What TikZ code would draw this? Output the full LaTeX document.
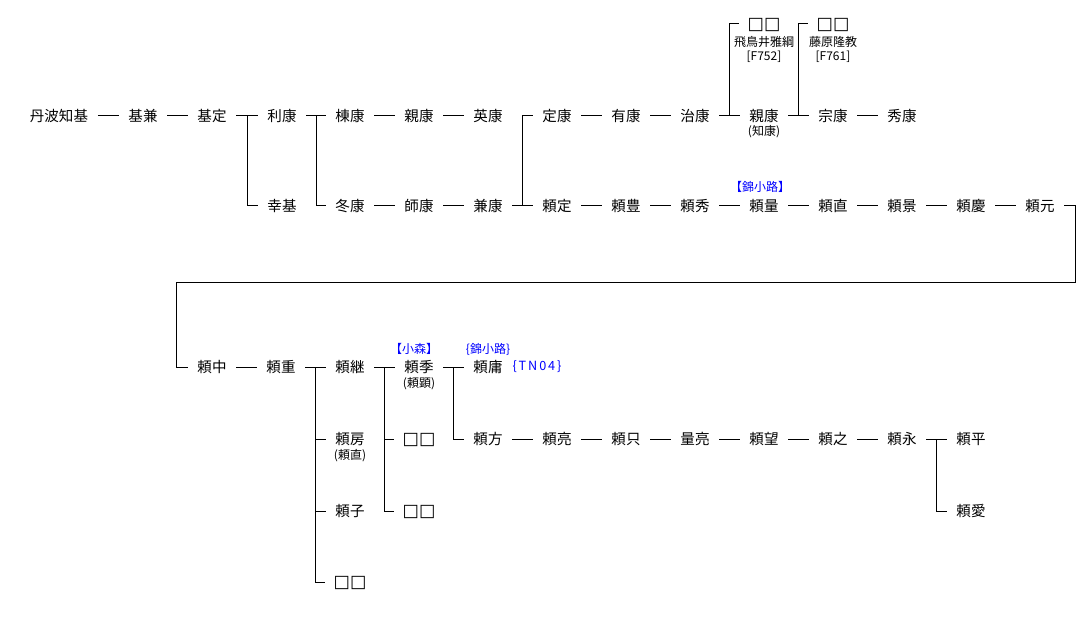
\documentclass[tikz,border=0pt]{standalone}
\usepackage{fontspec}
\newfontfamily\jp{Noto Sans CJK JP}
\newfontfamily\dv{DejaVu Sans}
\begin{document}
\begin{tikzpicture}[x=0.75pt,y=-0.75pt,
  nm/.style={font=\jp\fontsize{10.9}{12}\selectfont, inner xsep=7.1pt, inner ysep=0pt, text height=9.6pt, text depth=1.3pt},
  sq/.style={nm, font=\dv\fontsize{13}{14}\selectfont, inner xsep=6.5pt},
  sm/.style={font=\jp\fontsize{9}{10}\selectfont, inner sep=0pt},
  bl/.style={sm, text=blue},
  ln/.style={line width=0.75pt, black}]
\useasboundingbox (0,0) rectangle (1082,631);
% row 1
\node[nm] (n1) at (59,116) {丹波知基};
\node[nm] (n2) at (143,116) {基兼};
\node[nm] (n3) at (212,116) {基定};
\node[nm] (n4) at (282,116) {利康};
\node[nm] (n5) at (350,116) {棟康};
\node[nm] (n6) at (419,116) {親康};
\node[nm] (n7) at (488,116) {英康};
\node[nm] (n8) at (557,116) {定康};
\node[nm] (n9) at (626,116) {有康};
\node[nm] (n10) at (695,116) {治康};
\node[nm] (n11) at (764,116) {親康};
\node[sm] (n11s) at (764,132) {(知康)};
\node[nm] (n12) at (833,116) {宗康};
\node[nm] (n13) at (902,116) {秀康};
\node[sq] (s1) at (764,24) {□□};
\node[sm] (s1a) at (764,42) {飛鳥井雅綱};
\node[sm] (s1b) at (764,57) {[F752]};
\node[sq] (s2) at (833,24) {□□};
\node[sm] (s2a) at (833,42) {藤原隆教};
\node[sm] (s2b) at (833,57) {[F761]};
% row 2
\node[nm] (m1) at (282,206) {幸基};
\node[nm] (m2) at (350,206) {冬康};
\node[nm] (m3) at (419,206) {師康};
\node[nm] (m4) at (488,206) {兼康};
\node[nm] (m5) at (557,206) {頼定};
\node[nm] (m6) at (626,206) {頼豊};
\node[nm] (m7) at (695,206) {頼秀};
\node[nm] (m8) at (764,206) {頼量};
\node[bl] (m8l) at (760,187) {【錦小路】};
\node[nm] (m9) at (833,206) {頼直};
\node[nm] (m10) at (902,206) {頼景};
\node[nm] (m11) at (971,206) {頼慶};
\node[nm] (m12) at (1040,206) {頼元};
% row 3
\node[nm] (r1) at (212,367) {頼中};
\node[nm] (r2) at (281,367) {頼重};
\node[nm] (r3) at (350,367) {頼継};
\node[nm] (r4) at (419,367) {頼季};
\node[bl] (r4l) at (414,349) {【小森】};
\node[sm] (r4s) at (419,384) {(頼顕)};
\node[nm] (r5) at (488,367) {頼庸};
\node[bl] (r5l) at (488,349) {\{錦小路\}};
\node[bl, font=\jp\fontsize{9.5}{10}\selectfont\addfontfeature{LetterSpace=15}] (r5r) at (537,367) {\{TN04\}};
% row 4
\node[nm] (q1) at (350,439) {頼房};
\node[sm] (q1s) at (350,456) {(頼直)};
\node[sq] (q2) at (419,439) {□□};
\node[nm] (q3) at (488,439) {頼方};
\node[nm] (q4) at (557,439) {頼亮};
\node[nm] (q5) at (626,439) {頼只};
\node[nm] (q6) at (695,439) {量亮};
\node[nm] (q7) at (764,439) {頼望};
\node[nm] (q8) at (833,439) {頼之};
\node[nm] (q9) at (902,439) {頼永};
\node[nm] (q10) at (971,439) {頼平};
% row 5, 6
\node[nm] (p1) at (350,511) {頼子};
\node[sq] (p2) at (419,511) {□□};
\node[nm] (p3) at (971,511) {頼愛};
\node[sq] (o1) at (350,582) {□□};
% branch points
\path (n3.east) -- (n4.west) coordinate[pos=.5] (b1);
\path (n4.east) -- (n5.west) coordinate[pos=.5] (b2);
\path (m4.east) -- (m5.west) coordinate[pos=.5] (b3);
\path (n10.east) -- (n11.west) coordinate[pos=.5] (b4);
\path (n11.east) -- (n12.west) coordinate[pos=.5] (b5);
\path (r2.east) -- (r3.west) coordinate[pos=.5] (b6);
\path (r3.east) -- (r4.west) coordinate[pos=.5] (b7);
\path (r4.east) -- (r5.west) coordinate[pos=.5] (b8);
\path (q9.east) -- (q10.west) coordinate[pos=.5] (b9);
\coordinate (t1) at (1075,282);
\coordinate (t2) at (176,282);
% connectors row 1
\draw[ln] (n1) -- (n2);
\draw[ln] (n2) -- (n3);
\draw[ln] (n3) -- (n4);
\draw[ln] (b1) |- (m1.west);
\draw[ln] (n4) -- (n5);
\draw[ln] (b2) |- (m2.west);
\draw[ln] (n5) -- (n6);
\draw[ln] (n6) -- (n7);
\draw[ln] (n8) -- (n9);
\draw[ln] (n9) -- (n10);
\draw[ln] (n10) -- (n11);
\draw[ln] (b4) |- (s1.west);
\draw[ln] (n11) -- (n12);
\draw[ln] (b5) |- (s2.west);
\draw[ln] (n12) -- (n13);
% row 2
\draw[ln] (m2) -- (m3);
\draw[ln] (m3) -- (m4);
\draw[ln] (m4) -- (m5);
\draw[ln] (b3) |- (n8.west);
\draw[ln] (m5) -- (m6);
\draw[ln] (m6) -- (m7);
\draw[ln] (m7) -- (m8);
\draw[ln] (m8) -- (m9);
\draw[ln] (m9) -- (m10);
\draw[ln] (m10) -- (m11);
\draw[ln] (m11) -- (m12);
\draw[ln] (m12.east) -| (t1) -- (t2) |- (r1.west);
% row 3+
\draw[ln] (r1) -- (r2);
\draw[ln] (r2) -- (r3);
\draw[ln] (b6) |- (q1.west);
\draw[ln] (b6) |- (p1.west);
\draw[ln] (b6) |- (o1.west);
\draw[ln] (r3) -- (r4);
\draw[ln] (b7) |- (q2.west);
\draw[ln] (b7) |- (p2.west);
\draw[ln] (r4) -- (r5);
\draw[ln] (b8) |- (q3.west);
\draw[ln] (q3) -- (q4);
\draw[ln] (q4) -- (q5);
\draw[ln] (q5) -- (q6);
\draw[ln] (q6) -- (q7);
\draw[ln] (q7) -- (q8);
\draw[ln] (q8) -- (q9);
\draw[ln] (q9) -- (q10);
\draw[ln] (b9) |- (p3.west);
\end{tikzpicture}
\end{document}
